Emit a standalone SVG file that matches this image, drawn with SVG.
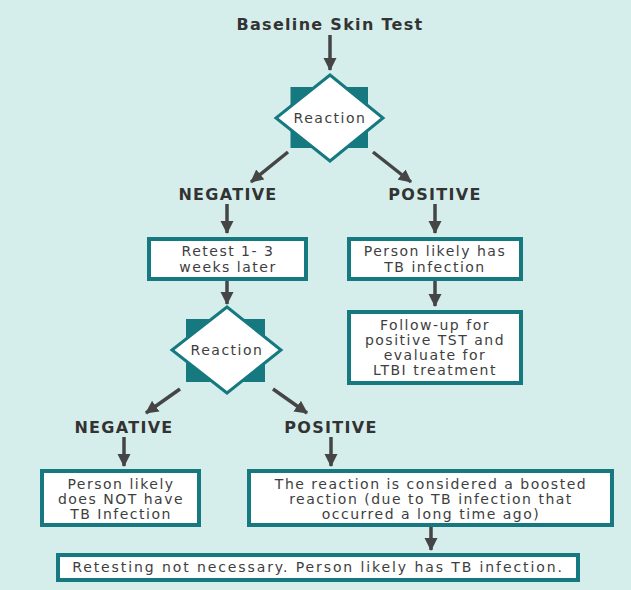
<svg xmlns="http://www.w3.org/2000/svg" width="631" height="590" viewBox="0 0 631 590">
<style>
.bg{fill:#d5eeec}
.box{fill:#ffffff;stroke:#167980;stroke-width:4}
.dia{fill:#ffffff;stroke:#167980;stroke-width:3;stroke-linejoin:miter}
.sq{fill:#167980}
.t{font-family:"DejaVu Sans",sans-serif;font-size:14px;fill:#3e3e3e;text-anchor:middle;letter-spacing:1.5px}
.w{letter-spacing:1.9px}
.b{font-family:"DejaVu Sans",sans-serif;font-weight:bold;font-size:16px;fill:#333333;text-anchor:middle;letter-spacing:1.3px}
.c{stroke:#454545;stroke-width:3.5;fill:none}
</style>
<defs>
<marker id="ah" markerUnits="userSpaceOnUse" markerWidth="14" markerHeight="14" viewBox="0 0 14 14" refX="12" refY="7" orient="auto">
<path d="M0,0.5 L13,7 L0,13.5 Z" fill="#454545"/>
</marker>
</defs>
<rect class="bg" x="0" y="0" width="631" height="590"/>

<g id="connectors">
<line class="c" x1="330" y1="35" x2="330" y2="70" marker-end="url(#ah)"/>
<line class="c" x1="288" y1="152" x2="251" y2="182" marker-end="url(#ah)"/>
<line class="c" x1="373" y1="152" x2="411" y2="182" marker-end="url(#ah)"/>
<line class="c" x1="227" y1="204" x2="227" y2="233" marker-end="url(#ah)"/>
<line class="c" x1="435" y1="204" x2="435" y2="233" marker-end="url(#ah)"/>
<line class="c" x1="227" y1="281" x2="227" y2="304" marker-end="url(#ah)"/>
<line class="c" x1="435" y1="281" x2="435" y2="306" marker-end="url(#ah)"/>
<line class="c" x1="180" y1="389" x2="146" y2="413" marker-end="url(#ah)"/>
<line class="c" x1="273" y1="389" x2="307" y2="413" marker-end="url(#ah)"/>
<line class="c" x1="124" y1="437" x2="124" y2="466" marker-end="url(#ah)"/>
<line class="c" x1="331" y1="437" x2="331" y2="466" marker-end="url(#ah)"/>
<line class="c" x1="431" y1="527" x2="431" y2="550" marker-end="url(#ah)"/>
</g>

<g id="title">
<text class="b" x="330" y="30">Baseline Skin Test</text>
</g>

<g id="reaction1">
<rect class="sq" x="290.5" y="87" width="77.5" height="61"/>
<polygon class="dia" points="330,75 383,118 330,161 276,118"/>
<text class="t" x="330" y="123">Reaction</text>
</g>

<g id="negative1"><text class="b" x="228" y="200">NEGATIVE</text></g>
<g id="positive1"><text class="b" x="435" y="200">POSITIVE</text></g>

<g id="retest">
<rect class="box" x="149" y="239" width="157" height="40"/>
<text class="t" x="228" y="256">Retest 1- 3</text>
<text class="t" x="228" y="272">weeks later</text>
</g>

<g id="likelyhas">
<rect class="box" x="349" y="239" width="172" height="40"/>
<text class="t" x="435" y="256">Person likely has</text>
<text class="t" x="435" y="272">TB infection</text>
</g>

<g id="followup">
<rect class="box" x="349" y="312" width="172" height="71"/>
<text class="t" x="435" y="330">Follow-up for</text>
<text class="t" x="435" y="345">positive TST and</text>
<text class="t" x="435" y="360">evaluate for</text>
<text class="t" x="435" y="375">LTBI treatment</text>
</g>

<g id="reaction2">
<rect class="sq" x="186" y="319" width="79" height="63"/>
<polygon class="dia" points="227,307 281,350 227,393 172,350"/>
<text class="t" x="227" y="355">Reaction</text>
</g>

<g id="negative2"><text class="b" x="124" y="433">NEGATIVE</text></g>
<g id="positive2"><text class="b" x="331" y="433">POSITIVE</text></g>

<g id="nottb">
<rect class="box" x="42" y="471" width="157" height="54"/>
<text class="t" x="121" y="489">Person likely</text>
<text class="t" x="121" y="504">does NOT have</text>
<text class="t" x="121" y="519">TB Infection</text>
</g>

<g id="boosted">
<rect class="box" x="249" y="471" width="363" height="54"/>
<text class="t" x="431" y="489">The reaction is considered a boosted</text>
<text class="t" x="431" y="504">reaction (due to TB infection that</text>
<text class="t" x="431" y="519">occurred a long time ago)</text>
</g>

<g id="retesting">
<rect class="box" x="58" y="555" width="520" height="25"/>
<text class="t w" x="318" y="572">Retesting not necessary. Person likely has TB infection.</text>
</g>
</svg>
